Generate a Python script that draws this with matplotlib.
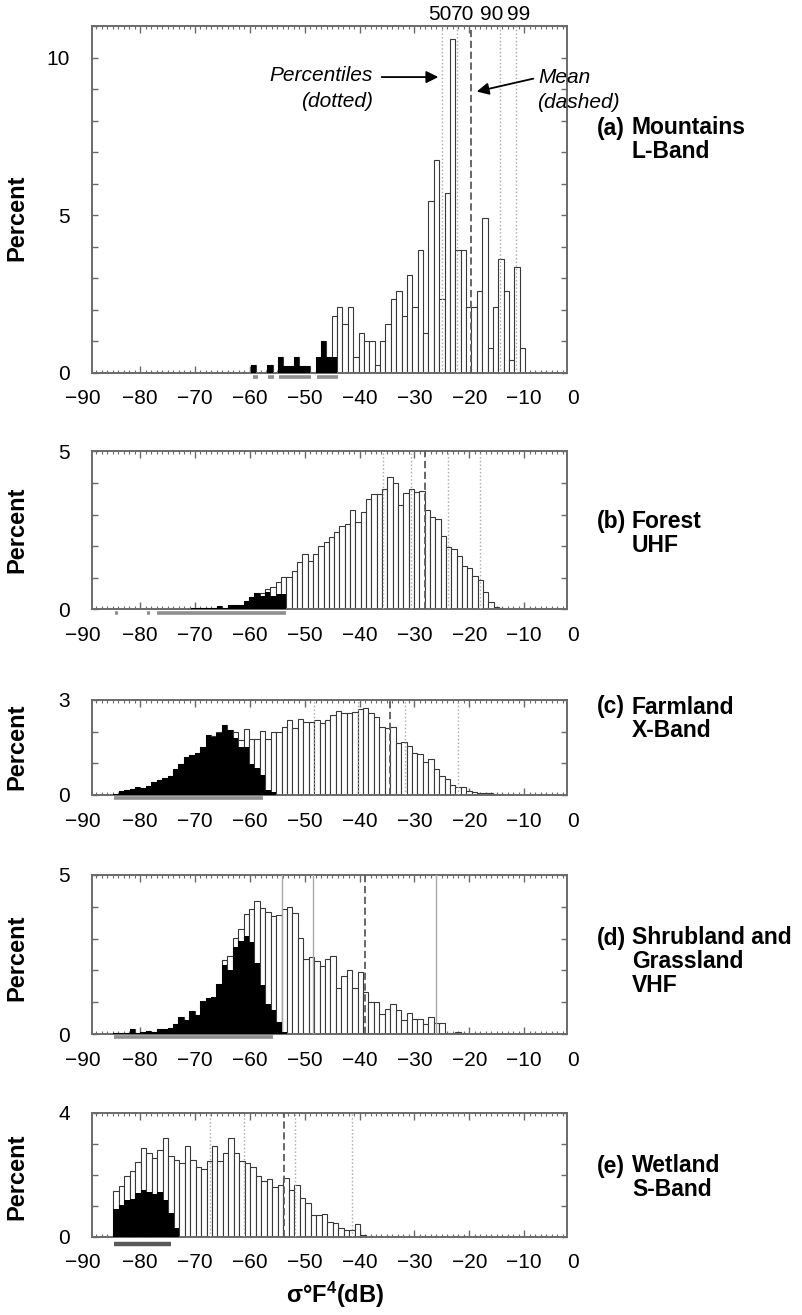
import numpy as np
import matplotlib.pyplot as plt

plt.rcParams['font.family'] = ['Liberation Sans', 'DejaVu Sans']
plt.rcParams['mathtext.fontset'] = 'custom'
plt.rcParams['mathtext.rm'] = 'Liberation Sans'
plt.rcParams['mathtext.bf'] = 'Liberation Sans:bold'
plt.rcParams['mathtext.it'] = 'Liberation Sans:italic'

# ---- data (sigma F^4 in dB, percent per bin) ----
# (a) Mountains, L-Band
a_start, a_width = -59.78, 0.98
a_black = [0.23, 0, 0, 0.23, 0, 0.49, 0.21, 0.21, 0.49, 0.21, 0.21, 0, 0.49, 1.02, 0.49, 0.49]
a_white = [0.23, 0, 0, 0.23, 0, 0.49, 0.21, 0.21, 0.49, 0.21, 0.21, 0, 0.49, 1.02, 0.49,
           1.80, 2.07, 1.55, 2.07, 0.49, 1.27, 1.02, 1.02, 0.24, 1.02, 1.55, 2.33, 2.58, 1.81,
           3.10, 2.07, 3.89, 1.27, 5.46, 6.75, 2.33, 5.71, 10.59, 3.89, 3.89, 2.07, 2.07, 2.58,
           4.90, 0.77, 2.07, 3.61, 2.58, 0.40, 3.36, 0.77]
a_pct = [-25.03, -22.29, -14.39, -11.47]
a_mean = -19.74
a_noise = [(-59.48, -58.45), (-56.63, -55.53), (-54.62, -48.85), (-47.81, -43.86)]

# (b) Forest, UHF
b_start, b_width = -77.61, 0.97
b_black = [0.01, 0.01, 0.01, 0.01, 0.02, 0.02, 0.02, 0.03, 0.03, 0.04, 0.05, 0.05, 0.12,
           0.05, 0.15, 0.15, 0.15, 0.27, 0.38, 0.51, 0.42, 0.56, 0.42, 0.49, 0.49]
b_white = [0.01, 0.01, 0.01, 0.01, 0.02, 0.02, 0.02, 0.03, 0.03, 0.04, 0.05, 0.05, 0.12,
           0.05, 0.15, 0.15, 0.15, 0.27, 0.38, 0.51, 0.53,
           0.64, 0.72, 0.88, 1.03, 1.03, 1.21, 1.50, 1.74, 1.54, 1.74, 2.00, 2.14, 2.29, 2.44,
           2.65, 2.70, 3.14, 2.77, 3.07, 3.51, 3.64, 3.64, 3.81, 4.18, 3.99, 3.30, 3.70, 3.80,
           3.72, 3.74, 3.14, 2.91, 2.86, 2.33, 1.96, 1.91, 1.70, 1.38, 1.32, 1.05, 0.93, 0.56,
           0.24, 0.08, 0.03, 0.02]
b_pct = [-35.66, -30.68, -23.81, -18.04]
b_mean = -28.07
b_noise = [(-84.5, -84.0), (-78.7, -78.2), (-76.98, -53.41)]

# (c) Farmland, X-Band
c_start, c_width = -84.9, 0.99
c_black = [0.03, 0.14, 0.16, 0.19, 0.26, 0.21, 0.29, 0.40, 0.47, 0.53, 0.60, 0.82, 0.97, 1.19,
           1.26, 1.32, 1.53, 1.89, 1.84, 1.95, 2.21, 2.05, 1.79, 1.53, 1.53, 0.98, 0.86, 0.63,
           0.16, 0.08]
c_white = [0.03, 0.14, 0.16, 0.19, 0.26, 0.21, 0.29, 0.40, 0.47, 0.53, 0.60, 0.82, 0.97, 1.19,
           1.26, 1.32, 1.53, 1.91, 1.86, 1.98, 2.21, 2.05, 2.00, 1.74, 2.07, 1.77, 1.77, 2.02,
           1.76, 2.00, 2.00, 2.16, 2.37, 2.10, 2.39, 2.32, 2.32, 2.37, 2.26, 2.37, 2.53, 2.66,
           2.58, 2.60, 2.63, 2.71, 2.74, 2.58, 2.45, 2.16, 2.10, 2.16, 1.63, 1.66, 1.55, 1.32,
           1.28, 1.05, 1.13, 0.82, 0.60, 0.49, 0.32, 0.24, 0.24, 0.14, 0.09, 0.07, 0.07, 0.05,
           0.03, 0.02]
c_pct = [-48.24, -40.34, -31.71, -21.99]
c_mean = -34.45
c_noise = [(-84.8, -57.66)]

# (d) Shrubland and Grassland, VHF
d_start, d_width = -84.9, 0.99
d_black = [0.02, 0.02, 0.02, 0.15, 0.04, 0.07, 0.10, 0.07, 0.17, 0.17, 0.18, 0.32, 0.52, 0.44,
           0.71, 0.60, 1.04, 1.12, 1.15, 1.58, 2.16, 2.02, 2.73, 2.92, 3.09, 2.88, 2.23, 1.55,
           0.95, 0.76, 0.39, 0.07]
d_white = [0.02, 0.02, 0.02, 0.15, 0.04, 0.07, 0.10, 0.07, 0.17, 0.17, 0.18, 0.32, 0.52, 0.44,
           0.71, 0.60, 1.04, 1.12, 1.15, 1.58, 2.34, 2.46, 3.02, 3.31, 3.76, 3.94, 4.18, 3.97,
           3.83, 3.71, 3.74, 3.94, 4.00, 3.81, 3.02, 2.36, 2.42, 2.31, 2.13, 2.36, 2.44, 1.44,
           1.83, 2.02, 1.44, 1.94, 1.31, 1.02, 1.02, 0.62, 0.78, 0.95, 0.76, 0.44, 0.67, 0.46,
           0.46, 0.32, 0.55, 0.36, 0.34, 0.02, 0.02, 0.05, 0.02]
d_pct = [-54.19, -48.42, -26.12]
d_mean = -39.0
d_noise = [(-84.8, -55.84)]

# (e) Wetland, S-Band
e_start, e_width = -84.9, 1.0
e_black = [0.88, 1.02, 1.20, 1.22, 1.40, 1.50, 1.45, 1.37, 1.45, 1.20, 0.75, 0.27]
e_white = [1.48, 1.65, 1.96, 2.13, 2.42, 2.85, 2.69, 2.53, 2.80, 3.17, 2.60, 2.47, 2.37, 2.94,
           2.49, 2.24, 2.18, 2.45, 2.94, 2.45, 2.69, 3.17, 2.71, 2.44, 2.37, 2.26, 1.96, 1.81,
           1.86, 1.59, 1.67, 1.90, 1.51, 1.67, 1.26, 1.08, 0.70, 0.70, 0.72, 0.48, 0.45, 0.29,
           0.22, 0.22, 0.41, 0.05]
e_pct = [-67.26, -61.06, -51.77, -41.31]
e_mean = -53.71
e_noise = [(-84.8, -74.37)]

pct_names = ['50', '70', '90', '99']
pct_name_x = [-25.33, -21.14, -15.85, -10.93]

panel_names = [['(a)', 'Mountains', 'L-Band'],
               ['(b)', 'Forest', 'UHF'],
               ['(c)', 'Farmland', 'X-Band'],
               ['(d)', 'Shrubland and', 'Grassland', 'VHF'],
               ['(e)', 'Wetland', 'S-Band']]

# ---- layout (pixels of an 803 x 1315 canvas) ----
W, H = 803, 1315
frames = [(26, 372.7), (451.5, 609.3), (700, 795), (875, 1034), (1112.7, 1236.7)]
ymax = [11, 5, 3, 5, 4]
ylab_ticks = [[0, 5, 10], [0, 5], [0, 3], [0, 5], [0, 4]]
ylab_y = [218, 530, 747, 958, 1177]
name_y = [128, 522, 707, 938, 1166]
noise_style = [dict(color='#8f8f8f', lw=2.6, y=-0.14), dict(color='#8f8f8f', lw=2.6, y=-0.11),
               dict(color='#8f8f8f', lw=2.6, y=-0.09), dict(color='#8f8f8f', lw=2.6, y=-0.11),
               dict(color='#5a5a5a', lw=3.2, y=-0.25)]
XMIN, XMAX = -88.78, -2.18
FRAME_C = '#6a6a6a'

panels = [
    (a_start, a_width, a_white, a_black, a_pct, a_mean, a_noise, ':'),
    (b_start, b_width, b_white, b_black, b_pct, b_mean, b_noise, ':'),
    (c_start, c_width, c_white, c_black, c_pct, c_mean, c_noise, ':'),
    (d_start, d_width, d_white, d_black, d_pct, d_mean, d_noise, '-'),
    (e_start, e_width, e_white, e_black, e_pct, e_mean, e_noise, ':'),
]

fig = plt.figure(figsize=(W / 100, H / 100), dpi=100)
axes = []
for i, (start, width, white, black, pct, mean, noise, pstyle) in enumerate(panels):
    top, bot = frames[i]
    ax = fig.add_axes([92 / W, 1 - bot / H, 475 / W, (bot - top) / H])
    axes.append(ax)

    edges = start + width * np.arange(len(white) + 1)
    ax.bar(edges[:-1], white, width=width, align='edge', color='white',
           edgecolor='#383838', linewidth=0.8, zorder=2)
    for p in pct:
        ax.axvline(p, color='#a8a8a8', linestyle=pstyle, linewidth=1.0, zorder=3)
    ax.axvline(mean, color='#5c5c5c', linestyle=(0, (4, 2)), linewidth=1.3, zorder=3)
    ax.stairs(black, edges[:len(black) + 1], fill=True, color='black', zorder=4)

    ns = noise_style[i]
    for s, e in noise:
        ax.plot([s, e], [ns['y'], ns['y']], color=ns['color'], linewidth=ns['lw'],
                solid_capstyle='butt', clip_on=False, zorder=5)

    ax.set_xlim(XMIN, XMAX)
    ax.set_ylim(0, ymax[i])
    ax.set_xticks(np.arange(-80, -9, 10))
    ax.set_xticks(np.arange(-88, -2, 1), minor=True)
    ax.set_yticks(ylab_ticks[i])
    ax.set_yticks(np.arange(0, ymax[i] + 1), minor=True)
    ax.tick_params(axis='x', which='both', direction='in', top=True, bottom=True,
                   labelsize=15, pad=12, color=FRAME_C)
    ax.tick_params(axis='x', which='major', length=5, width=1)
    ax.tick_params(axis='x', which='minor', length=2.5, width=0.8)
    ax.tick_params(axis='y', which='both', direction='in', left=True, right=True,
                   length=4, width=1, labelsize=15, pad=16, color=FRAME_C)
    for sp in ax.spines.values():
        sp.set_color(FRAME_C)
        sp.set_linewidth(1.4)

    # end labels of the dB axis sit just outside the frame
    for v, txt in [(-90.5, '\u221290'), (-1.1, '0')]:
        ax.annotate(txt, xy=(v, 0), xycoords=('data', 'axes fraction'), xytext=(0, -12),
                    textcoords='offset points', ha='center', va='top', fontsize=15,
                    annotation_clip=False)

    fig.text(16.7 / W, 1 - ylab_y[i] / H, 'Percent', rotation=90, ha='center',
             va='center', fontsize=17, fontweight='bold')

    names = panel_names[i]
    fig.text(597 / W, 1 - name_y[i] / H, names[0], ha='left', va='center',
             fontsize=16.5, fontweight='bold')
    for j, line in enumerate(names[1:]):
        fig.text(632 / W, 1 - (name_y[i] + 23.5 * j) / H, line, ha='left', va='center',
                 fontsize=16.5, fontweight='bold')

# annotations of panel (a)
ax = axes[0]
for x, t in zip(pct_name_x, pct_names):
    ax.text(x, 1.032, t, transform=ax.get_xaxis_transform(), ha='center', va='center',
            fontsize=15)
ax.text(-37.55, 9.44, 'Percentiles', ha='right', va='center', fontsize=15, style='italic')
ax.text(-37.55, 8.59, '(dotted)', ha='right', va='center', fontsize=15, style='italic')
ax.text(-7.46, 9.38, 'Mean', ha='left', va='center', fontsize=15, style='italic')
ax.text(-7.70, 8.56, '(dashed)', ha='left', va='center', fontsize=15, style='italic')
ax.annotate('', xy=(-25.64, 9.38), xytext=(-35.96, 9.38),
            arrowprops=dict(arrowstyle='-|>', color='black', lw=1.3, mutation_scale=18,
                            shrinkA=0, shrinkB=0), annotation_clip=False)
ax.annotate('', xy=(-18.64, 8.92), xytext=(-8.32, 9.33),
            arrowprops=dict(arrowstyle='-|>', color='black', lw=1.3, mutation_scale=18,
                            shrinkA=0, shrinkB=0), annotation_clip=False)

fig.text(335 / W, 1 - 1295 / H, 'σ°F$^{\\mathbf{4}}$(dB)', ha='center',
         va='center', fontsize=17, fontweight='bold')

fig.savefig('out.png', dpi=100)
